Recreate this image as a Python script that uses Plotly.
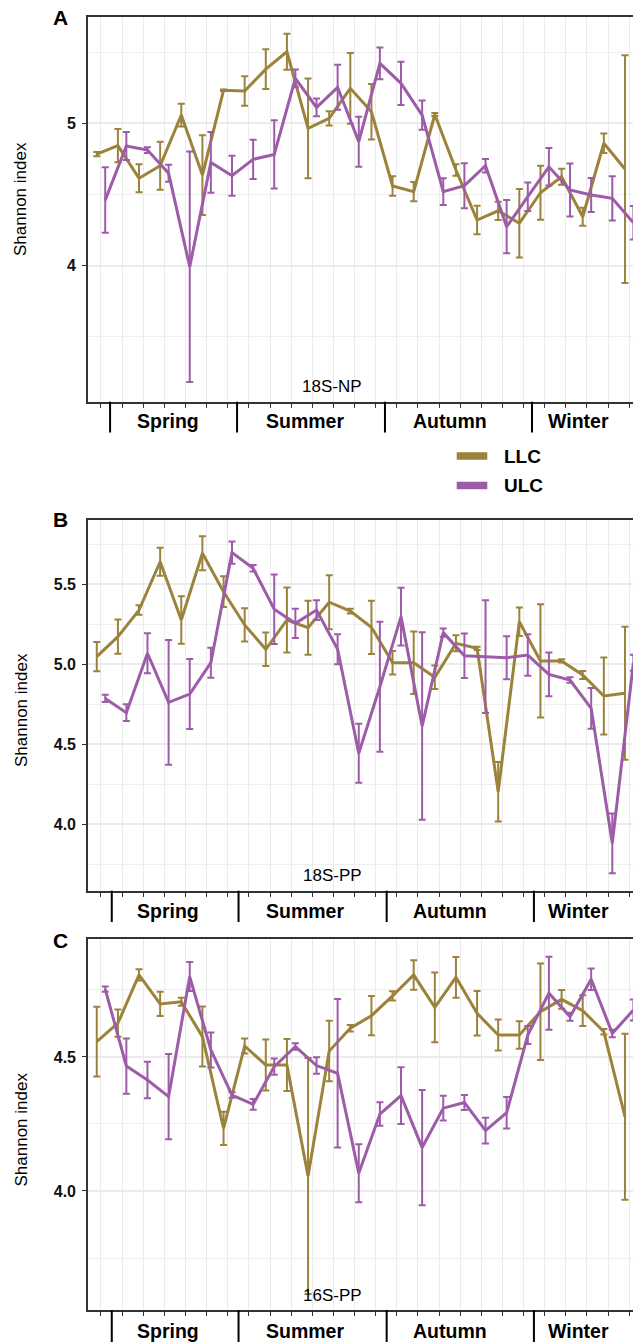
import plotly.graph_objects as go

# ---------------- data ----------------
samples = list(range(1, 27))
seasons = ["Spring", "Summer", "Autumn", "Winter"]
panel_letters = ["A", "B", "C"]
panel_names = ["18S-NP", "18S-PP", "16S-PP"]
groups = ["LLC", "ULC"]

A_LLC = [4.784, 4.843, 4.614, 4.702, 5.058, 4.637, 5.232, 5.227, 5.381, 5.503, 4.965, 5.035, 5.246,
         5.081, 4.560, 4.520, 5.062, 4.672, 4.321, 4.386, 4.298, 4.513, 4.625, 4.344, 4.860, 4.679]
A_LLC_err = [0.015, 0.117, 0.098, 0.168, 0.08, 0.28, 0.005, 0.103, 0.14, 0.127, 0.35, 0.05, 0.248,
             0.195, 0.068, 0.068, 0.01, 0.04, 0.1, 0.064, 0.24, 0.19, 0.056, 0.064, 0.068, 0.8]
A_ULC = [4.461, 4.841, 4.812, 4.649, 3.993, 4.726, 4.632, 4.747, 4.782, 5.316, 5.112, 5.253, 4.871,
         5.421, 5.281, 5.058, 4.520, 4.562, 4.702, 4.274, 4.485, 4.695, 4.532, 4.497, 4.473, 4.302]
A_ULC_err = [0.23, 0.098, 0.02, 0.06, 0.81, 0.214, 0.14, 0.138, 0.24, 0.063, 0.063, 0.158, 0.175,
             0.111, 0.152, 0.103, 0.094, 0.158, 0.047, 0.187, 0.1, 0.131, 0.186, 0.12, 0.155, 0.117]

B_LLC = [5.048, 5.173, 5.339, 5.641, 5.277, 5.694, 5.454, 5.246, 5.094, 5.277, 5.229, 5.388, 5.333,
         5.231, 5.010, 5.010, 4.919, 5.131, 5.100, 4.204, 5.266, 5.021, 5.021, 4.933, 4.802, 4.819]
B_LLC_err = [0.092, 0.107, 0.03, 0.087, 0.149, 0.106, 0.096, 0.104, 0.105, 0.203, 0.169, 0.169, 0.015,
             0.167, 0.073, 0.195, 0.073, 0.05, 0.01, 0.186, 0.089, 0.354, 0.01, 0.025, 0.24, 0.416]
B_ULC = [4.787, 4.698, 5.069, 4.762, 4.814, 5.010, 5.698, 5.600, 5.344, 5.256, 5.339, 5.094, 4.444,
         4.860, 5.298, 4.614, 5.198, 5.054, 5.048, 5.041, 5.058, 4.937, 4.902, 4.725, 3.881, 5.010]
B_ULC_err = [0.023, 0.052, 0.125, 0.39, 0.219, 0.094, 0.07, 0.02, 0.217, 0.092, 0.062, 0.094, 0.185,
             0.406, 0.181, 0.586, 0.026, 0.139, 0.352, 0.135, 0.13, 0.137, 0.017, 0.127, 0.187, 0.05]

C_LLC = [4.557, 4.626, 4.806, 4.698, 4.706, 4.576, 4.234, 4.541, 4.470, 4.470, 4.056, 4.522, 4.607,
         4.654, 4.728, 4.806, 4.685, 4.797, 4.663, 4.582, 4.582, 4.669, 4.715, 4.673, 4.594, 4.277]
C_LLC_err = [0.13, 0.051, 0.021, 0.045, 0.015, 0.112, 0.062, 0.028, 0.095, 0.097, 0.44, 0.113, 0.012,
             0.073, 0.017, 0.055, 0.13, 0.076, 0.083, 0.058, 0.051, 0.18, 0.035, 0.057, 0.01, 0.31]
C_ULC = [4.753, 4.466, 4.414, 4.352, 4.800, 4.526, 4.358, 4.323, 4.464, 4.539, 4.468, 4.439, 4.066,
         4.287, 4.356, 4.162, 4.309, 4.330, 4.225, 4.292, 4.582, 4.738, 4.650, 4.790, 4.588, 4.675]
C_ULC_err = [0.01, 0.103, 0.068, 0.159, 0.054, 0.065, 0.01, 0.02, 0.03, 0.012, 0.031, 0.277, 0.108,
             0.044, 0.106, 0.215, 0.046, 0.028, 0.048, 0.059, 0.034, 0.136, 0.015, 0.04, 0.014, 0.039]

# season boundaries (between sampling points) and label centres, in sample units
season_bounds = [[1.43, 7.44, 14.44, 21.40], [1.51, 7.51, 14.52, 21.49], [1.51, 7.51, 14.52, 21.49]]
season_centers = [4.17, 10.65, 17.5, 23.6]

# ---------------- styling ----------------
W, H = 633, 1342
L = 88
PW = W - L
COL = {"LLC": "#9B833B", "ULC": "#9D5CA8"}
FONT = "Liberation Sans, Arial, sans-serif"
DODGE = 0.2
XR = [0.385, 26.18]

def X(px):
    return (px - L) / PW

def Y(py):
    return 1 - py / H

panels = [
    dict(top=16.7, bot=401.7, yr=[3.045, 5.749], dt=1.0, t0=4, mdt=0.5, fmt="d",
         data={"LLC": (A_LLC, A_LLC_err), "ULC": (A_ULC, A_ULC_err)},
         season_y=420.5, name_y=386.7, sep_end=432.5, letter_y=17.5, title_y=199),
    dict(top=520.0, bot=890.7, yr=[3.585, 5.902], dt=0.5, t0=4, mdt=0.25, fmt=".1f",
         data={"LLC": (B_LLC, B_LLC_err), "ULC": (B_ULC, B_ULC_err)},
         season_y=910.5, name_y=875.0, sep_end=922, letter_y=519.5, title_y=710),
    dict(top=939.3, bot=1310.0, yr=[3.556, 4.939], dt=0.5, t0=4, mdt=0.25, fmt=".1f",
         data={"LLC": (C_LLC, C_LLC_err), "ULC": (C_ULC, C_ULC_err)},
         season_y=1330.5, name_y=1295.0, sep_end=1342, letter_y=940, title_y=1129.5),
]

fig = go.Figure()
annotations = []
shapes = []
layout = dict(
    width=W, height=H,
    margin=dict(l=L, r=0, t=0, b=0, pad=0),
    paper_bgcolor="white", plot_bgcolor="white",
    showlegend=False,
    font=dict(family=FONT, color="#1a1a1a"),
)

for i, p in enumerate(panels):
    sfx = "" if i == 0 else str(i + 1)
    xa, ya = "x" + sfx, "y" + sfx
    for g in groups:
        vals, errs = p["data"][g]
        off = -DODGE if g == "LLC" else DODGE
        fig.add_trace(go.Scatter(
            x=[s + off for s in samples], y=vals,
            mode="lines", name=g, xaxis=xa, yaxis=ya,
            line=dict(color=COL[g], width=3),
            error_y=dict(type="data", array=errs, visible=True, color=COL[g],
                         thickness=2, width=3.5),
            showlegend=False,
        ))
    layout["xaxis" + sfx] = dict(
        domain=[0, 1], anchor=ya, range=XR,
        tickmode="linear", tick0=1, dtick=1,
        showticklabels=False, ticks="outside", ticklen=4, tickwidth=1.2, tickcolor="#333333",
        showgrid=True, gridcolor="#EBEBEB", gridwidth=1.3,
        showline=True, linecolor="#333333", linewidth=1.6, mirror=True,
        zeroline=False, fixedrange=True,
    )
    layout["yaxis" + sfx] = dict(
        domain=[Y(p["bot"]), Y(p["top"])], anchor=xa, range=p["yr"],
        tickmode="linear", tick0=p["t0"], dtick=p["dt"], tickformat=p["fmt"],
        ticks="outside", ticklen=4, tickwidth=1.2, tickcolor="#333333",
        tickfont=dict(family=FONT, size=16, color="#111111", weight="bold"),
        ticklabelstandoff=3,
        showgrid=True, gridcolor="#EBEBEB", gridwidth=1.6,
        minor=dict(showgrid=True, dtick=p["mdt"], tick0=p["t0"], gridcolor="#EFEFEF",
                   gridwidth=1, ticks=""),
        showline=True, linecolor="#333333", linewidth=1.6, mirror=False,
        zeroline=False, fixedrange=True,
    )
    annotations.append(dict(text="<b>%s</b>" % panel_letters[i], x=X(60), y=Y(p["letter_y"]),
                            xref="paper", yref="paper", showarrow=False,
                            font=dict(family=FONT, size=21, color="#000000"),
                            xanchor="center", yanchor="middle"))
    annotations.append(dict(text="Shannon index", x=X(21), y=Y(p["title_y"]),
                            xref="paper", yref="paper", showarrow=False, textangle=-90,
                            font=dict(family=FONT, size=17, color="#000000"),
                            xanchor="center", yanchor="middle"))
    annotations.append(dict(text=panel_names[i], x=X(332), y=Y(p["name_y"]),
                            xref="paper", yref="paper", showarrow=False,
                            font=dict(family=FONT, size=17, color="#000000"),
                            xanchor="center", yanchor="middle"))
    for s, c in zip(seasons, season_centers):
        annotations.append(dict(text="<b>%s</b>" % s, x=c, y=Y(p["season_y"]),
                                xref=xa, yref="paper", showarrow=False,
                                font=dict(family=FONT, size=19.5, color="#000000"),
                                xanchor="center", yanchor="middle"))
    for b in season_bounds[i]:
        shapes.append(dict(type="line", xref=xa, yref="paper", x0=b, x1=b,
                           y0=Y(p["bot"]), y1=Y(p["sep_end"]),
                           line=dict(color="#000000", width=2)))

for g, cy in zip(groups, [456.0, 485.5]):
    shapes.append(dict(type="line", xref="paper", yref="paper", x0=X(456.7), x1=X(487.3),
                       y0=Y(cy), y1=Y(cy), line=dict(color=COL[g], width=7.5)))
    annotations.append(dict(text="<b>%s</b>" % g, x=X(502), y=Y(cy), xref="paper", yref="paper",
                            showarrow=False, xanchor="left", yanchor="middle",
                            font=dict(family=FONT, size=19, color="#000000")))

layout["annotations"] = annotations
layout["shapes"] = shapes
fig.update_layout(**layout)
fig.write_html("out.html")
